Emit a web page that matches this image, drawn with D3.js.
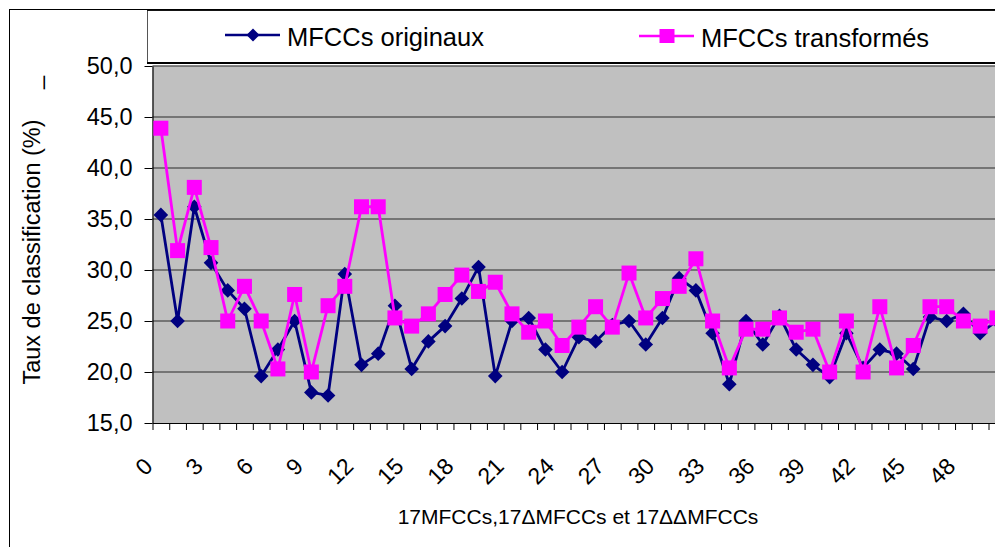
<!DOCTYPE html>
<html>
<head>
<meta charset="utf-8">
<script src="https://cdn.jsdelivr.net/npm/d3@7"></script>
<style>
  html, body { margin: 0; padding: 0; background: #fff; }
  svg { display: block; }
  text { font-family: "Liberation Sans", Arial, sans-serif; fill: #000; }
</style>
</head>
<body>
<svg id="chart" width="995" height="547"></svg>
<script>
// Coefficient index (0..50) for 17 MFCCs, 17 deltas and 17 delta-deltas
const categories = d3.range(0, 51);
const tickLabels = d3.range(0, 51, 3);
const yTicks = [15, 20, 25, 30, 35, 40, 45, 50];

const seriesNames = ["MFCCs originaux", "MFCCs transformés"];

// Classification rate (%) per coefficient
const original = [
  35.4, 25.0, 36.2, 30.7, 28.0, 26.2, 19.6, 22.2, 25.0, 18.0,
  17.7, 29.6, 20.7, 21.8, 26.5, 20.3, 23.0, 24.5, 27.2, 30.3,
  19.6, 25.0, 25.3, 22.2, 20.0, 23.4, 23.0, 24.6, 25.0, 22.7,
  25.3, 29.2, 28.0, 23.8, 18.8, 25.0, 22.7, 25.5, 22.2, 20.7,
  19.5, 23.8, 20.4, 22.2, 21.8, 20.3, 25.4, 25.0, 25.7, 23.8,
  25.0
];
const transformed = [
  43.9, 31.9, 38.1, 32.2, 25.0, 28.4, 25.0, 20.3, 27.6, 20.0,
  26.5, 28.4, 36.2, 36.2, 25.3, 24.5, 25.7, 27.6, 29.5, 27.9,
  28.8, 25.7, 23.9, 25.0, 22.6, 24.4, 26.4, 24.4, 29.7, 25.3,
  27.2, 28.4, 31.1, 25.0, 20.4, 24.2, 24.2, 25.3, 23.9, 24.2,
  20.0, 25.0, 20.0, 26.4, 20.4, 22.6, 26.4, 26.4, 25.0, 24.5,
  25.3
];

const svg = d3.select("#chart");
const fr = d3.formatLocale({ decimal: ",", thousands: " ", grouping: [3], currency: ["", " €"] });
const fmt = fr.format(".1f");

const plot = { left: 152.5, top: 66, bottom: 423, step: 16.72 };
plot.right = plot.left + plot.step * categories.length;

const x = d3.scaleBand().domain(categories).range([plot.left, plot.right]).padding(0);
const xEdge = d3.scaleLinear().domain([0, categories.length]).range([plot.left, plot.right]);
const y = d3.scaleLinear().domain([15, 50]).range([plot.bottom, plot.top]);
const cx = d => x(d) + x.bandwidth() / 2;

// Outer chart frame
svg.append("rect")
  .attr("x", 9.5).attr("y", 9.5).attr("width", 1200).attr("height", 700)
  .attr("fill", "#fff").attr("stroke", "#000").attr("stroke-width", 1);

// Plot area
svg.append("rect")
  .attr("x", plot.left).attr("y", plot.top)
  .attr("width", plot.right - plot.left).attr("height", plot.bottom - plot.top)
  .attr("fill", "#c0c0c0");

// Horizontal gridlines
svg.append("g")
  .selectAll("line")
  .data(yTicks.filter(t => t > 15))
  .join("line")
  .attr("x1", plot.left).attr("x2", plot.right)
  .attr("y1", d => y(d)).attr("y2", d => y(d))
  .attr("stroke", "#5c5c5c").attr("stroke-width", 1.4);

// Y axis
const yAxis = svg.append("g")
  .attr("transform", `translate(${plot.left},0)`)
  .call(d3.axisLeft(y).tickValues(yTicks).tickFormat(fmt).tickSize(8).tickSizeOuter(0).tickPadding(12));
yAxis.select(".domain").attr("stroke", "#000").attr("stroke-width", 1.2);
yAxis.selectAll(".tick line").attr("stroke", "#000");
yAxis.selectAll(".tick text")
  .style("font-family", '"Liberation Sans", Arial, sans-serif')
  .style("font-size", "23.5px");

// X axis: tick marks at category boundaries
const xAxis = svg.append("g")
  .attr("transform", `translate(0,${plot.bottom})`)
  .call(d3.axisBottom(xEdge).tickValues(d3.range(0, categories.length + 1)).tickFormat("").tickSize(7).tickSizeOuter(0));
xAxis.select(".domain").attr("stroke", "#000").attr("stroke-width", 1.2);
xAxis.selectAll(".tick line").attr("stroke", "#000");

// Rotated category labels
svg.append("g")
  .selectAll("text")
  .data(tickLabels)
  .join("text")
  .attr("transform", d => `translate(${xEdge(d) - 4},462) rotate(-45)`)
  .attr("text-anchor", "end")
  .attr("dominant-baseline", "central")
  .style("font-size", "23px")
  .text(d => d);

// Series lines and markers
const line = d3.line().x((d, i) => cx(categories[i])).y(d => y(d));

svg.append("path")
  .datum(original)
  .attr("d", line)
  .attr("fill", "none").attr("stroke", "#000080").attr("stroke-width", 2.8)
  .attr("stroke-linejoin", "round");

const diamond = r => `M0,${-r}L${r},0L0,${r}L${-r},0Z`;
svg.append("g")
  .selectAll("path")
  .data(original)
  .join("path")
  .attr("transform", (d, i) => `translate(${cx(categories[i])},${y(d)})`)
  .attr("d", diamond(7.3))
  .attr("fill", "#000080");

svg.append("path")
  .datum(transformed)
  .attr("d", line)
  .attr("fill", "none").attr("stroke", "#ff00ff").attr("stroke-width", 2.8)
  .attr("stroke-linejoin", "round");

svg.append("g")
  .selectAll("rect")
  .data(transformed)
  .join("rect")
  .attr("x", (d, i) => cx(categories[i]) - 7.5)
  .attr("y", d => y(d) - 7.5)
  .attr("width", 15).attr("height", 15)
  .attr("fill", "#ff00ff");

// Legend
const legend = svg.append("g");
legend.append("rect")
  .attr("x", 147.5).attr("y", 10.5).attr("width", 1000).attr("height", 52)
  .attr("fill", "#fff").attr("stroke", "#555").attr("stroke-width", 1);
legend.append("line")
  .attr("x1", 147).attr("x2", 1000).attr("y1", 63).attr("y2", 63)
  .attr("stroke", "#000").attr("stroke-width", 2);
legend.append("line")
  .attr("x1", 147).attr("x2", 1000).attr("y1", 10).attr("y2", 10)
  .attr("stroke", "#000").attr("stroke-width", 1.5);

const items = [
  { name: seriesNames[0], x: 225, y: 35, color: "#000080", marker: "diamond" },
  { name: seriesNames[1], x: 639, y: 36, color: "#ff00ff", marker: "square" }
];
items.forEach(it => {
  legend.append("line")
    .attr("x1", it.x).attr("x2", it.x + 55).attr("y1", it.y).attr("y2", it.y)
    .attr("stroke", it.color).attr("stroke-width", 2.6);
  if (it.marker === "diamond") {
    legend.append("path")
      .attr("transform", `translate(${it.x + 28},${it.y})`)
      .attr("d", diamond(6.5)).attr("fill", it.color);
  } else {
    legend.append("rect")
      .attr("x", it.x + 28 - 7.5).attr("y", it.y - 7)
      .attr("width", 15).attr("height", 14).attr("fill", it.color);
  }
  legend.append("text")
    .attr("x", it.x + 62).attr("y", it.y + 11)
    .style("font-size", "25.5px")
    .text(it.name);
});

// Axis titles
svg.append("text")
  .attr("transform", "translate(40,252) rotate(-90)")
  .attr("text-anchor", "middle")
  .style("font-size", "23.5px")
  .text("Taux de classification (%)");
svg.append("text")
  .attr("transform", "translate(40,89) rotate(-90)")
  .attr("text-anchor", "start")
  .style("font-size", "23.5px")
  .text("_");

svg.append("text")
  .attr("x", 578).attr("y", 524)
  .attr("text-anchor", "middle")
  .style("font-size", "21px")
  .text("17MFCCs,17ΔMFCCs et 17ΔΔMFCCs");
</script>
</body>
</html>
